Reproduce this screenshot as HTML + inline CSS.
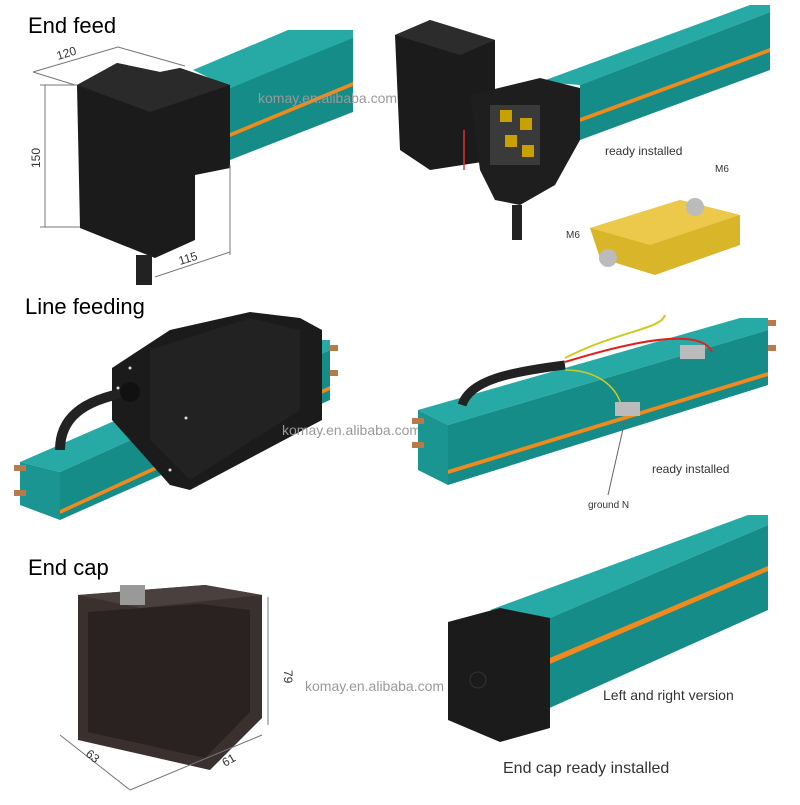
<!DOCTYPE html><html><head><style>
body{margin:0;background:#fff;}
svg text{font-family:"Liberation Sans",Arial,sans-serif;}
</style></head><body>
<svg width="800" height="800" viewBox="0 0 800 800" xmlns="http://www.w3.org/2000/svg">
<rect width="800" height="800" fill="#fff"/>
<!-- TOP LEFT -->
<polygon points="193,70 288,30 353,30 353,40 230,88" fill="#27aaa5"/>
<polygon points="230,88 353,38 353,112 230,160" fill="#158c88"/>
<polygon points="230,133 353,82 353,86 230,137" fill="#f08a1c"/>
<polygon points="77,85 117,63 160,72 180,68 230,85 230,168 195,175 195,240 155,258 135,250 80,228" fill="#1b1b1b"/>
<polygon points="77,85 117,63 160,72 180,68 230,85 150,112" fill="#2a2a2a"/>
<rect x="136" y="255" width="16" height="30" fill="#222"/>
<g stroke="#777" stroke-width="1" fill="none">
<line x1="33" y1="72" x2="75" y2="85"/><line x1="33" y1="72" x2="118" y2="47"/><line x1="118" y1="47" x2="185" y2="66"/>
<line x1="45" y1="85" x2="45" y2="227"/><line x1="40" y1="85" x2="77" y2="85"/><line x1="40" y1="227" x2="80" y2="227"/>
<line x1="155" y1="277" x2="230" y2="252"/><line x1="230" y1="165" x2="230" y2="255"/>
</g>
<text x="28" y="33" font-size="22">End feed</text>
<text x="58" y="60" font-size="12" fill="#333" transform="rotate(-17 58 60)">120</text>
<text x="40" y="168" font-size="12" fill="#333" transform="rotate(-90 40 168)">150</text>
<text x="180" y="265" font-size="12" fill="#333" transform="rotate(-17 180 265)">115</text>
<text x="258" y="103" font-size="14" fill="#999">komay.en.alibaba.com</text>
<!-- TOP RIGHT -->
<polygon points="540,82 750,5 770,5 770,12 580,85" fill="#27aaa5"/>
<polygon points="580,85 770,12 770,70 580,140" fill="#158c88"/>
<polygon points="580,118 770,48 770,52 580,122" fill="#f08a1c"/>
<polygon points="395,35 430,20 495,40 495,160 430,170 400,150" fill="#1b1b1b"/>
<polygon points="395,35 430,20 495,40 460,55" fill="#2c2c2c"/>
<polygon points="470,95 540,78 580,88 580,140 555,185 520,205 495,200 480,170" fill="#1e1e1e"/>
<rect x="490" y="105" width="50" height="60" fill="#3a3a3a"/>
<rect x="500" y="110" width="12" height="12" fill="#c8a000"/><rect x="520" y="118" width="12" height="12" fill="#c8a000"/><rect x="505" y="135" width="12" height="12" fill="#c8a000"/><rect x="522" y="145" width="12" height="12" fill="#c8a000"/>
<rect x="512" y="205" width="10" height="35" fill="#222"/>
<line x1="464" y1="130" x2="464" y2="170" stroke="#d33" stroke-width="1.5"/>
<text x="605" y="155" font-size="12" fill="#333">ready installed</text>
<polygon points="590,228 680,200 740,215 740,245 655,275 600,258" fill="#d9b52a"/>
<polygon points="590,228 680,200 740,215 650,245" fill="#ecc94a"/>
<circle cx="695" cy="207" r="9" fill="#bbb"/><circle cx="608" cy="258" r="9" fill="#bbb"/>
<text x="715" y="172" font-size="10" fill="#333">M6</text><text x="566" y="238" font-size="10" fill="#333">M6</text>
<!-- MIDDLE LEFT -->
<text x="25" y="314" font-size="22">Line feeding</text>
<polygon points="20,462 300,340 330,340 330,350 60,472" fill="#27aaa5"/>
<polygon points="60,472 330,350 330,400 60,520" fill="#158c88"/>
<polygon points="60,510 330,386 330,390 60,514" fill="#f08a1c"/>
<polygon points="20,462 60,472 60,520 20,505" fill="#1a9591"/>
<g fill="#b87a4a"><rect x="14" y="465" width="12" height="6"/><rect x="14" y="490" width="12" height="6"/><rect x="330" y="345" width="8" height="6"/><rect x="330" y="370" width="8" height="6"/></g>
<polygon points="112,368 170,330 250,312 300,318 322,330 322,420 190,490 170,485 112,420" fill="#1b1b1b"/>
<polygon points="150,350 250,318 300,330 300,410 190,480 150,440" fill="#222"/>
<path d="M130,392 C80,400 60,420 60,450" stroke="#222" stroke-width="10" fill="none"/>
<circle cx="130" cy="392" r="10" fill="#111"/>
<g fill="#ddd"><circle cx="118" cy="388" r="1.5"/><circle cx="186" cy="418" r="1.5"/><circle cx="170" cy="470" r="1.5"/><circle cx="130" cy="368" r="1.5"/></g>
<text x="282" y="435" font-size="14" fill="#999">komay.en.alibaba.com</text>
<!-- MIDDLE RIGHT -->
<polygon points="418,410 740,318 768,318 768,330 448,425" fill="#27aaa5"/>
<polygon points="448,425 768,330 768,385 448,485" fill="#158c88"/>
<polygon points="448,470 768,372 768,376 448,474" fill="#f08a1c"/>
<polygon points="418,410 448,425 448,485 418,470" fill="#1a9591"/>
<g fill="#b87a4a"><rect x="412" y="418" width="12" height="6"/><rect x="412" y="442" width="12" height="6"/><rect x="768" y="320" width="8" height="6"/><rect x="768" y="345" width="8" height="6"/></g>
<path d="M565,365 C510,372 470,380 462,405" stroke="#222" stroke-width="9" fill="none"/>
<path d="M565,362 C620,345 700,325 712,352" stroke="#d22" stroke-width="2" fill="none"/>
<path d="M565,358 C620,330 660,330 665,315" stroke="#cc2" stroke-width="2" fill="none"/>
<path d="M565,370 C600,370 620,390 622,410" stroke="#cc2" stroke-width="1.5" fill="none"/>
<rect x="680" y="345" width="25" height="14" fill="#bbb"/><rect x="615" y="402" width="25" height="14" fill="#bbb"/>
<text x="652" y="473" font-size="12" fill="#333">ready installed</text>
<text x="588" y="508" font-size="10" fill="#333">ground N</text>
<line x1="608" y1="495" x2="625" y2="420" stroke="#666"/>
<!-- BOTTOM LEFT -->
<text x="28" y="575" font-size="22">End cap</text>
<polygon points="78,595 205,585 262,595 262,718 210,770 78,740" fill="#3a302e"/>
<polygon points="78,595 205,585 262,595 140,608" fill="#4a403d"/>
<polygon points="88,612 200,604 250,610 250,712 205,758 88,732" fill="#2a2220"/>
<rect x="120" y="585" width="25" height="20" fill="#999"/>
<g stroke="#777" fill="none"><line x1="268" y1="597" x2="268" y2="725"/><line x1="60" y1="735" x2="130" y2="790"/><line x1="130" y1="790" x2="262" y2="735"/></g>
<text x="85" y="755" font-size="12" fill="#333" transform="rotate(40 85 755)">63</text>
<text x="225" y="767" font-size="12" fill="#333" transform="rotate(-30 225 767)">61</text>
<text x="284" y="670" font-size="12" fill="#333" transform="rotate(90 284 670)">79</text>
<text x="305" y="691" font-size="14" fill="#999">komay.en.alibaba.com</text>
<!-- BOTTOM RIGHT -->
<polygon points="490,610 748,515 768,515 768,525 545,620" fill="#27aaa5"/>
<polygon points="545,620 768,525 768,610 545,710" fill="#158c88"/>
<polygon points="545,660 768,566 768,571 545,666" fill="#f08a1c"/>
<polygon points="448,622 500,608 550,618 550,728 500,742 448,720" fill="#1b1b1b"/>
<circle cx="478" cy="680" r="8" fill="none" stroke="#333"/>
<text x="603" y="700" font-size="14" fill="#333">Left and right version</text>
<text x="503" y="773" font-size="16" fill="#333">End cap ready installed</text>
</svg>
</body></html>
